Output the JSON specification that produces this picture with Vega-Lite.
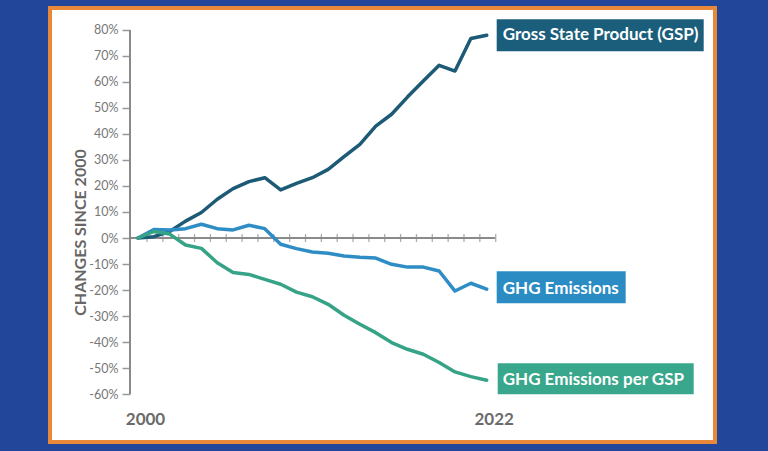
{
  "$schema": "https://vega.github.io/schema/vega-lite/v6.json",
  "width": 665,
  "height": 434,
  "autosize": {"type": "none"},
  "padding": {"left": 50, "top": 8, "right": 53, "bottom": 9},
  "background": "#22479a",
  "config": {
    "view": {"fill": "white", "stroke": "#e8893a", "strokeWidth": 4},
    "font": "Lato"
  },
  "datasets": {
    "lines": [
      {"year": 2000, "series": "Gross State Product (GSP)", "value": 0},
      {"year": 2001, "series": "Gross State Product (GSP)", "value": 0.5},
      {"year": 2002, "series": "Gross State Product (GSP)", "value": 2.5},
      {"year": 2003, "series": "Gross State Product (GSP)", "value": 6.5},
      {"year": 2004, "series": "Gross State Product (GSP)", "value": 9.8},
      {"year": 2005, "series": "Gross State Product (GSP)", "value": 14.9},
      {"year": 2006, "series": "Gross State Product (GSP)", "value": 19},
      {"year": 2007, "series": "Gross State Product (GSP)", "value": 21.7},
      {"year": 2008, "series": "Gross State Product (GSP)", "value": 23.2},
      {"year": 2009, "series": "Gross State Product (GSP)", "value": 18.5},
      {"year": 2010, "series": "Gross State Product (GSP)", "value": 21},
      {"year": 2011, "series": "Gross State Product (GSP)", "value": 23.2},
      {"year": 2012, "series": "Gross State Product (GSP)", "value": 26.4},
      {"year": 2013, "series": "Gross State Product (GSP)", "value": 31.3},
      {"year": 2014, "series": "Gross State Product (GSP)", "value": 36},
      {"year": 2015, "series": "Gross State Product (GSP)", "value": 43},
      {"year": 2016, "series": "Gross State Product (GSP)", "value": 47.6},
      {"year": 2017, "series": "Gross State Product (GSP)", "value": 54.2},
      {"year": 2018, "series": "Gross State Product (GSP)", "value": 60.4},
      {"year": 2019, "series": "Gross State Product (GSP)", "value": 66.4},
      {"year": 2020, "series": "Gross State Product (GSP)", "value": 64.2},
      {"year": 2021, "series": "Gross State Product (GSP)", "value": 76.7},
      {"year": 2022, "series": "Gross State Product (GSP)", "value": 78},
      {"year": 2000, "series": "GHG Emissions", "value": 0},
      {"year": 2001, "series": "GHG Emissions", "value": 3.3},
      {"year": 2002, "series": "GHG Emissions", "value": 3.1},
      {"year": 2003, "series": "GHG Emissions", "value": 3.6},
      {"year": 2004, "series": "GHG Emissions", "value": 5.3},
      {"year": 2005, "series": "GHG Emissions", "value": 3.6},
      {"year": 2006, "series": "GHG Emissions", "value": 3.1},
      {"year": 2007, "series": "GHG Emissions", "value": 4.9},
      {"year": 2008, "series": "GHG Emissions", "value": 3.6},
      {"year": 2009, "series": "GHG Emissions", "value": -2.4},
      {"year": 2010, "series": "GHG Emissions", "value": -4.1},
      {"year": 2011, "series": "GHG Emissions", "value": -5.4},
      {"year": 2012, "series": "GHG Emissions", "value": -5.9},
      {"year": 2013, "series": "GHG Emissions", "value": -6.9},
      {"year": 2014, "series": "GHG Emissions", "value": -7.4},
      {"year": 2015, "series": "GHG Emissions", "value": -7.7},
      {"year": 2016, "series": "GHG Emissions", "value": -10.1},
      {"year": 2017, "series": "GHG Emissions", "value": -11.2},
      {"year": 2018, "series": "GHG Emissions", "value": -11.2},
      {"year": 2019, "series": "GHG Emissions", "value": -12.7},
      {"year": 2020, "series": "GHG Emissions", "value": -20.4},
      {"year": 2021, "series": "GHG Emissions", "value": -17.4},
      {"year": 2022, "series": "GHG Emissions", "value": -19.7},
      {"year": 2000, "series": "GHG Emissions per GSP", "value": 0},
      {"year": 2001, "series": "GHG Emissions per GSP", "value": 2.5},
      {"year": 2002, "series": "GHG Emissions per GSP", "value": 1.5},
      {"year": 2003, "series": "GHG Emissions per GSP", "value": -2.7},
      {"year": 2004, "series": "GHG Emissions per GSP", "value": -4},
      {"year": 2005, "series": "GHG Emissions per GSP", "value": -9.5},
      {"year": 2006, "series": "GHG Emissions per GSP", "value": -13.3},
      {"year": 2007, "series": "GHG Emissions per GSP", "value": -14},
      {"year": 2008, "series": "GHG Emissions per GSP", "value": -15.9},
      {"year": 2009, "series": "GHG Emissions per GSP", "value": -17.8},
      {"year": 2010, "series": "GHG Emissions per GSP", "value": -20.8},
      {"year": 2011, "series": "GHG Emissions per GSP", "value": -22.6},
      {"year": 2012, "series": "GHG Emissions per GSP", "value": -25.5},
      {"year": 2013, "series": "GHG Emissions per GSP", "value": -29.7},
      {"year": 2014, "series": "GHG Emissions per GSP", "value": -33.2},
      {"year": 2015, "series": "GHG Emissions per GSP", "value": -36.4},
      {"year": 2016, "series": "GHG Emissions per GSP", "value": -40.2},
      {"year": 2017, "series": "GHG Emissions per GSP", "value": -42.8},
      {"year": 2018, "series": "GHG Emissions per GSP", "value": -44.7},
      {"year": 2019, "series": "GHG Emissions per GSP", "value": -47.9},
      {"year": 2020, "series": "GHG Emissions per GSP", "value": -51.5},
      {"year": 2021, "series": "GHG Emissions per GSP", "value": -53.3},
      {"year": 2022, "series": "GHG Emissions per GSP", "value": -54.7}
    ]
  },
  "data": {"name": "lines"},
  "layer": [
    {
      "mark": {"type": "rule", "color": "#8a8a8a", "strokeWidth": 1.5},
      "encoding": {
        "x": {"datum": 1999.495, "type": "quantitative"},
        "y": {"datum": -60, "type": "quantitative"},
        "y2": {"datum": 80}
      }
    },
    {
      "mark": {"type": "rule", "color": "#8a8a8a", "strokeWidth": 1.5},
      "encoding": {
        "x": {"datum": 1999.495, "type": "quantitative"},
        "x2": {"datum": 2022.52},
        "y": {"datum": 0, "type": "quantitative"}
      }
    },
    {
      "transform": [{"filter": "datum.series == 'GHG Emissions'"}],
      "mark": {"type": "tick", "orient": "vertical", "size": 8, "thickness": 1.3, "color": "#8a8a8a", "xOffset": 9},
      "encoding": {
        "x": {"field": "year", "type": "quantitative"},
        "y": {"datum": 0, "type": "quantitative"}
      }
    },
    {
      "mark": {"type": "line", "strokeWidth": 3.5, "strokeJoin": "round", "strokeCap": "round"},
      "encoding": {
        "x": {"field": "year", "type": "quantitative", "scale": {"domain": [1994.448, 2036.404], "nice": false, "zero": false},
          "axis": {"orient": "bottom", "offset": -18, "values": [2000, 2022], "format": "d", "domain": false, "ticks": false, "grid": false, "labelPadding": 0, "labelBaseline": "alphabetic", "labelOffset": 7, "labelFontSize": 17, "labelFontWeight": "bold", "labelColor": "#6b6b6b", "labelFont": "Lato", "labelFlush": false, "labelOverlap": false, "title": null}},
        "y": {"field": "value", "type": "quantitative", "scale": {"domain": [-78.46, 88.46], "nice": false, "zero": false},
          "axis": {"orient": "left", "offset": -80, "values": [-60, -50, -40, -30, -20, -10, 0, 10, 20, 30, 40, 50, 60, 70, 80], "tickCount": 15, "labelExpr": "datum.value + '%'", "labelOverlap": false, "domain": false, "grid": false, "tickSize": 8, "tickColor": "#999999", "tickWidth": 1.5, "labelPadding": 4, "labelFontSize": 12.5, "labelColor": "#777777", "labelFont": "Lato",
            "title": "CHANGES SINCE 2000", "titleFont": "Lato", "titleFontSize": 16, "titleFontWeight": "bold", "titleColor": "#666666", "titleX": -45, "titleY": 224, "titleAlign": "center", "titleBaseline": "alphabetic", "titleAngle": -90}},
        "color": {"field": "series", "type": "nominal",
          "scale": {"domain": ["Gross State Product (GSP)", "GHG Emissions", "GHG Emissions per GSP"], "range": ["#1c5a76", "#2e8dc4", "#36a386"]},
          "legend": null}
      }
    },
    {
      "transform": [{"filter": "datum.year == 2022 && datum.series == 'Gross State Product (GSP)'"}],
      "mark": {"type": "rect", "color": "#1b5e7b", "xOffset": 10, "x2Offset": 217, "yOffset": -16, "y2Offset": 16},
      "encoding": {
        "x": {"field": "year", "type": "quantitative"},
        "x2": {"field": "year"},
        "y": {"field": "value", "type": "quantitative"},
        "y2": {"field": "value"}
      }
    },
    {
      "transform": [{"filter": "datum.year == 2022 && datum.series == 'GHG Emissions'"}],
      "mark": {"type": "rect", "color": "#2b8cc4", "xOffset": 10, "x2Offset": 139, "yOffset": -18, "y2Offset": 14},
      "encoding": {
        "x": {"field": "year", "type": "quantitative"},
        "x2": {"field": "year"},
        "y": {"field": "value", "type": "quantitative"},
        "y2": {"field": "value"}
      }
    },
    {
      "transform": [{"filter": "datum.year == 2022 && datum.series == 'GHG Emissions per GSP'"}],
      "mark": {"type": "rect", "color": "#38a78c", "xOffset": 11, "x2Offset": 207, "yOffset": -17, "y2Offset": 14},
      "encoding": {
        "x": {"field": "year", "type": "quantitative"},
        "x2": {"field": "year"},
        "y": {"field": "value", "type": "quantitative"},
        "y2": {"field": "value"}
      }
    },
    {
      "transform": [{"filter": "datum.year == 2022"}],
      "mark": {"type": "text", "align": "left", "baseline": "middle", "dx": 16, "dy": 0, "font": "Lato", "fontSize": 17, "fontWeight": "bold", "color": "white"},
      "encoding": {
        "x": {"field": "year", "type": "quantitative"},
        "y": {"field": "value", "type": "quantitative"},
        "text": {"field": "series"}
      }
    }
  ]
}
